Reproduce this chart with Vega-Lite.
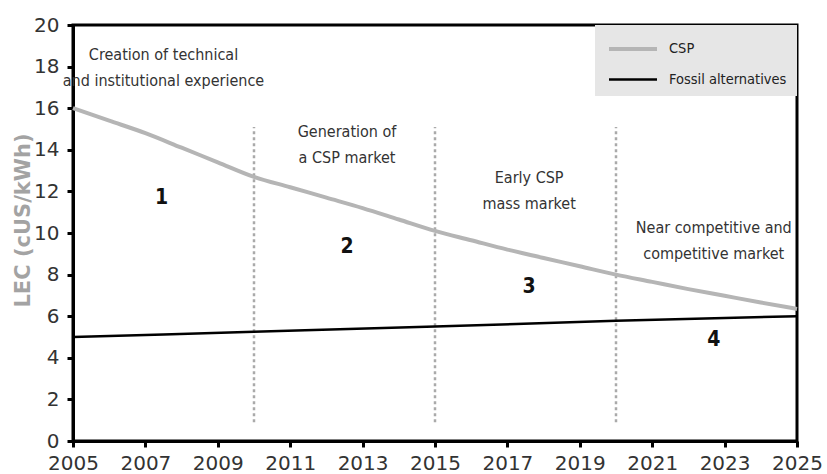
{
  "$schema": "https://vega.github.io/schema/vega-lite/v6.json",
  "width": 724,
  "height": 416,
  "autosize": "none",
  "padding": {"left": 73, "top": 25, "right": 30, "bottom": 33},
  "background": "white",
  "datasets": {
    "lines": [
      {"year": 2005, "value": 16.0, "series": "CSP"},
      {"year": 2006, "value": 15.4, "series": "CSP"},
      {"year": 2007, "value": 14.8, "series": "CSP"},
      {"year": 2008, "value": 14.1, "series": "CSP"},
      {"year": 2009, "value": 13.4, "series": "CSP"},
      {"year": 2010, "value": 12.7, "series": "CSP"},
      {"year": 2011, "value": 12.2, "series": "CSP"},
      {"year": 2012, "value": 11.7, "series": "CSP"},
      {"year": 2013, "value": 11.2, "series": "CSP"},
      {"year": 2014, "value": 10.65, "series": "CSP"},
      {"year": 2015, "value": 10.1, "series": "CSP"},
      {"year": 2016, "value": 9.65, "series": "CSP"},
      {"year": 2017, "value": 9.2, "series": "CSP"},
      {"year": 2018, "value": 8.8, "series": "CSP"},
      {"year": 2019, "value": 8.4, "series": "CSP"},
      {"year": 2020, "value": 8.0, "series": "CSP"},
      {"year": 2021, "value": 7.65, "series": "CSP"},
      {"year": 2022, "value": 7.3, "series": "CSP"},
      {"year": 2023, "value": 6.98, "series": "CSP"},
      {"year": 2024, "value": 6.66, "series": "CSP"},
      {"year": 2025, "value": 6.35, "series": "CSP"},
      {"year": 2005, "value": 5.0, "series": "Fossil alternatives"},
      {"year": 2010, "value": 5.25, "series": "Fossil alternatives"},
      {"year": 2015, "value": 5.5, "series": "Fossil alternatives"},
      {"year": 2020, "value": 5.78, "series": "Fossil alternatives"},
      {"year": 2025, "value": 6.0, "series": "Fossil alternatives"}
    ],
    "dividers": [
      {"year": 2010, "from": 0.9, "to": 15.1},
      {"year": 2015, "from": 0.9, "to": 15.1},
      {"year": 2020, "from": 0.9, "to": 15.1}
    ],
    "phases": [
      {"year": 2007.5, "value": 18.56, "label": "Creation of technical\nand institutional experience"},
      {"year": 2012.57, "value": 14.86, "label": "Generation of\na CSP market"},
      {"year": 2017.6, "value": 12.64, "label": "Early CSP\nmass market"},
      {"year": 2022.7, "value": 10.24, "label": "Near competitive and\ncompetitive market"}
    ],
    "numbers": [
      {"year": 2007.45, "value": 11.7, "label": "1"},
      {"year": 2012.57, "value": 9.33, "label": "2"},
      {"year": 2017.6, "value": 7.4, "label": "3"},
      {"year": 2022.7, "value": 4.86, "label": "4"}
    ]
  },
  "config": {
    "view": {"stroke": "black", "strokeWidth": 3},
    "axis": {
      "grid": false,
      "domainColor": "black",
      "domainWidth": 3,
      "tickColor": "black",
      "tickWidth": 3,
      "tickSize": 6,
      "labelFont": "DejaVu Sans",
      "labelFontSize": 20,
      "labelColor": "#333333",
      "labelOverlap": false,
      "labelFlush": false
    },
    "axisX": {"labelPadding": 6},
    "axisY": {"labelPadding": 8},
    "legend": {
      "orient": "top-right",
      "offset": 0,
      "fillColor": "#e6e6e6",
      "padding": 10,
      "symbolType": "M-2,0H2",
      "symbolSize": 576,
      "symbolStrokeWidth": 3.5,
      "symbolOffset": 14,
      "labelFont": "DejaVu Sans Condensed",
      "labelFontSize": 14.5,
      "labelColor": "#222222",
      "labelOffset": 22,
      "rowPadding": 9
    }
  },
  "layer": [
    {
      "data": {"name": "dividers"},
      "mark": {"type": "rule", "color": "#aaaaaa", "strokeWidth": 2.5, "strokeDash": [3, 3]},
      "encoding": {
        "x": {"field": "year", "type": "quantitative", "scale": {"domain": [2005, 2025], "nice": false, "zero": false}},
        "y": {"field": "from", "type": "quantitative", "scale": {"domain": [0, 20], "nice": false}},
        "y2": {"field": "to"}
      }
    },
    {
      "data": {"name": "lines"},
      "mark": {"type": "line", "interpolate": "monotone"},
      "encoding": {
        "x": {
          "field": "year", "type": "quantitative",
          "axis": {"title": null, "values": [2005, 2007, 2009, 2011, 2013, 2015, 2017, 2019, 2021, 2023, 2025], "format": "d"}
        },
        "y": {
          "field": "value", "type": "quantitative",
          "axis": {
            "title": "LEC (cUS/kWh)",
            "values": [0, 2, 4, 6, 8, 10, 12, 14, 16, 18, 20],
            "titleFont": "DejaVu Sans",
            "titleFontWeight": "bold",
            "titleFontSize": 21,
            "titleColor": "#a3a3a3",
            "titleX": -40,
            "titleY": 195
          }
        },
        "color": {
          "field": "series", "type": "nominal",
          "scale": {"domain": ["CSP", "Fossil alternatives"], "range": ["#b5b5b5", "#000000"]},
          "legend": {"title": null}
        },
        "strokeWidth": {
          "field": "series", "type": "nominal",
          "scale": {"domain": ["CSP", "Fossil alternatives"], "range": [4, 2.5]},
          "legend": null
        }
      }
    },
    {
      "data": {"name": "phases"},
      "mark": {"type": "text", "font": "DejaVu Sans Condensed", "fontSize": 16, "color": "#333333", "lineBreak": "\n", "lineHeight": 26, "align": "center", "baseline": "middle"},
      "encoding": {
        "x": {"field": "year", "type": "quantitative"},
        "y": {"field": "value", "type": "quantitative"},
        "text": {"field": "label"}
      }
    },
    {
      "data": {"name": "numbers"},
      "mark": {"type": "text", "font": "DejaVu Sans Condensed", "fontSize": 21, "fontWeight": "bold", "color": "#111111", "align": "center", "baseline": "middle"},
      "encoding": {
        "x": {"field": "year", "type": "quantitative"},
        "y": {"field": "value", "type": "quantitative"},
        "text": {"field": "label"}
      }
    }
  ]
}
